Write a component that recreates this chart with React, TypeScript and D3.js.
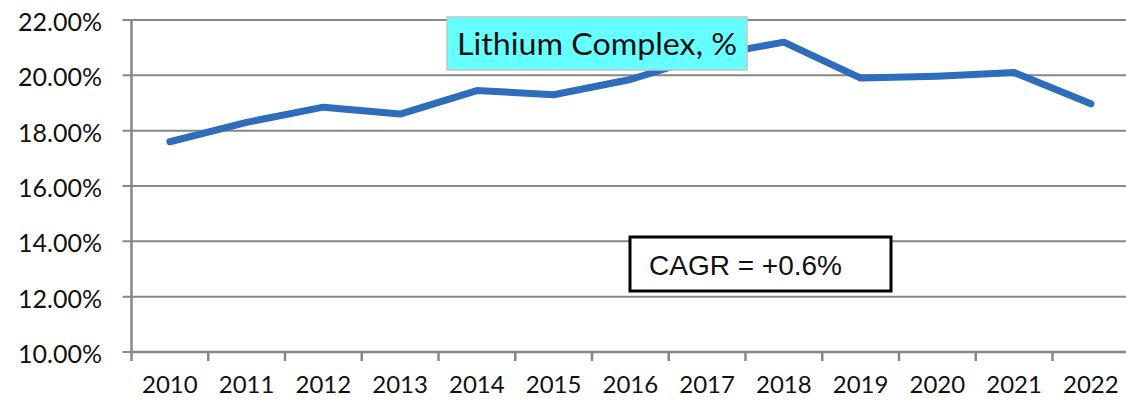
import { useMemo } from 'react'
import * as d3 from 'd3'

const YEARS = ['2010', '2011', '2012', '2013', '2014', '2015', '2016', '2017', '2018', '2019', '2020', '2021', '2022']
const LITHIUM_COMPLEX = [17.6, 18.3, 18.85, 18.6, 19.45, 19.3, 19.85, 20.7, 21.2, 19.9, 19.97, 20.1, 18.97]
const Y_TICKS = [10, 12, 14, 16, 18, 20, 22]
const TITLE = 'Lithium Complex, %'
const CAGR_LABEL = 'CAGR = +0.6%'

const WIDTH = 1126
const HEIGHT = 403
const LABEL_FONT = 'Lato, "Open Sans", sans-serif'

export default function App() {
  const margin = { top: 20, left: 131.5 }
  const plotBottom = 352

  const x = useMemo(
    () => d3.scaleBand<string>().domain(YEARS).range([margin.left, margin.left + 76.75 * YEARS.length]),
    []
  )
  const y = useMemo(() => d3.scaleLinear().domain([10, 22]).range([plotBottom, margin.top]), [])

  // line through the middle of each category
  const line = d3
    .line<number>()
    .x((_, i) => (x(YEARS[i]) || 0) + x.bandwidth() / 2)
    .y(d => y(d))

  const xEnd = x.range()[1]

  return (
    <svg
      width={WIDTH}
      height={HEIGHT}
      style={{ position: 'absolute', left: 0, top: 0, background: '#fff' }}
    >
      {/* horizontal grid + y ticks */}
      {Y_TICKS.map(t => (
        <g key={t}>
          <line x1={margin.left - 9} x2={xEnd} y1={y(t)} y2={y(t)} stroke="#878787" strokeWidth={2} />
          <text
            x={102}
            y={y(t) + 1}
            textAnchor="end"
            dominantBaseline="central"
            fontFamily={LABEL_FONT}
            fontSize={25}
            fill="#111"
          >
            {t.toFixed(2)}%
          </text>
        </g>
      ))}

      {/* y axis */}
      <line x1={margin.left} x2={margin.left} y1={margin.top} y2={plotBottom + 9} stroke="#878787" strokeWidth={2.5} />

      {/* x axis ticks and labels */}
      {YEARS.map((yr, i) => {
        const bx = (x(yr) || 0) + x.bandwidth()
        const cx = (x(yr) || 0) + x.bandwidth() / 2
        return (
          <g key={yr}>
            {i < YEARS.length - 1 && (
              <line x1={bx} x2={bx} y1={plotBottom} y2={plotBottom + 9} stroke="#878787" strokeWidth={2.5} />
            )}
            <text
              x={cx}
              y={393}
              textAnchor="middle"
              fontFamily={LABEL_FONT}
              fontSize={24}
              fill="#111"
            >
              {yr}
            </text>
          </g>
        )
      })}
      <line x1={margin.left} x2={xEnd} y1={plotBottom} y2={plotBottom} stroke="#878787" strokeWidth={2.5} />

      {/* series */}
      <path
        d={line(LITHIUM_COMPLEX) || ''}
        fill="none"
        stroke="#2d6dbb"
        strokeWidth={7}
        strokeLinejoin="round"
        strokeLinecap="round"
      />

      {/* title box */}
      <rect x={447} y={17} width={300} height={53} fill="#66ffff" stroke="#c4c4c4" strokeWidth={1.5} />
      <text
        x={597}
        y={55}
        textAnchor="middle"
        fontFamily={LABEL_FONT}
        fontSize={31}
        fill="#111"
        textLength={280}
        lengthAdjust="spacingAndGlyphs"
      >
        {TITLE}
      </text>

      {/* CAGR annotation */}
      <rect x={630} y={237} width={261} height={54} fill="#fff" stroke="#000" strokeWidth={3} />
      <text x={649} y={275} fontFamily='"Liberation Sans", Arial, sans-serif' fontSize={28} fill="#111">
        {CAGR_LABEL}
      </text>
    </svg>
  )
}
